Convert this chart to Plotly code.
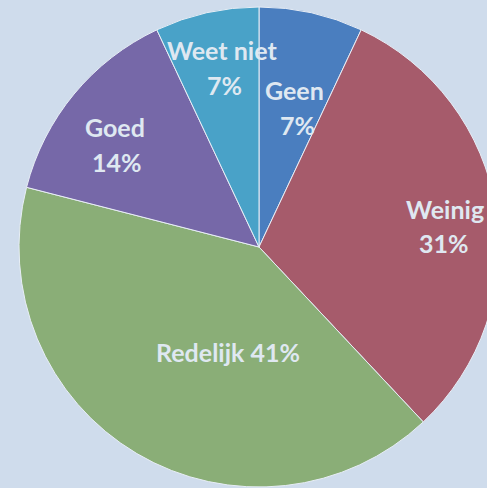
import plotly.graph_objects as go

# Data
labels = ["Geen", "Weinig", "Redelijk", "Goed", "Weet niet"]
values = [7, 31, 41, 14, 7]

# Style
colors = ["#4a7ebf", "#a65b6b", "#8aae77", "#7668a8", "#49a2c8"]
bg = "#cfdcec"
txt_color = "#dfe8f1"
font_family = "Lato, 'Open Sans', sans-serif"
font_size = 25

W, H = 518, 488
M_T, M_B = 7, 1

fig = go.Figure(go.Pie(
    labels=labels,
    values=values,
    sort=False,
    direction="clockwise",
    rotation=0,
    marker=dict(colors=colors, line=dict(color="#e8eef6", width=1)),
    textinfo="none",
    hoverinfo="label+percent",
    showlegend=False,
))

# label positions in pixels (name line, percent line); None = single line
label_pos = {
    "Geen": ((294, 90), (297, 125)),
    "Weinig": ((445, 209), (444, 243)),
    "Redelijk": ((228, 352), None),
    "Goed": ((115, 127), (117, 162)),
    "Weet niet": ((222, 50), (224, 85)),
}

def px2paper(x, y):
    return x / W, (H - M_B - y) / (H - M_T - M_B)

anns = []
for lab, val in zip(labels, values):
    p1, p2 = label_pos[lab]
    if p2 is None:
        items = [(p1, f"{lab} {val}%")]
    else:
        items = [(p1, lab), (p2, f"{val}%")]
    for (x, y), t in items:
        xp, yp = px2paper(x, y)
        anns.append(dict(x=xp, y=yp, xref="paper", yref="paper", text=t,
                         showarrow=False, xanchor="center", yanchor="middle",
                         font=dict(family=font_family, size=font_size,
                                   color=txt_color, weight="bold")))

fig.update_layout(
    width=W, height=H,
    margin=dict(l=0, r=0, t=M_T, b=M_B),
    paper_bgcolor=bg, plot_bgcolor=bg,
    annotations=anns,
    font=dict(family=font_family, size=font_size, color=txt_color),
)

fig.write_html("out.html", config={"displayModeBar": False},
               post_script="document.body.style.margin='0';document.body.style.overflow='hidden';document.documentElement.style.overflow='hidden';document.body.style.background='" + bg + "';")
